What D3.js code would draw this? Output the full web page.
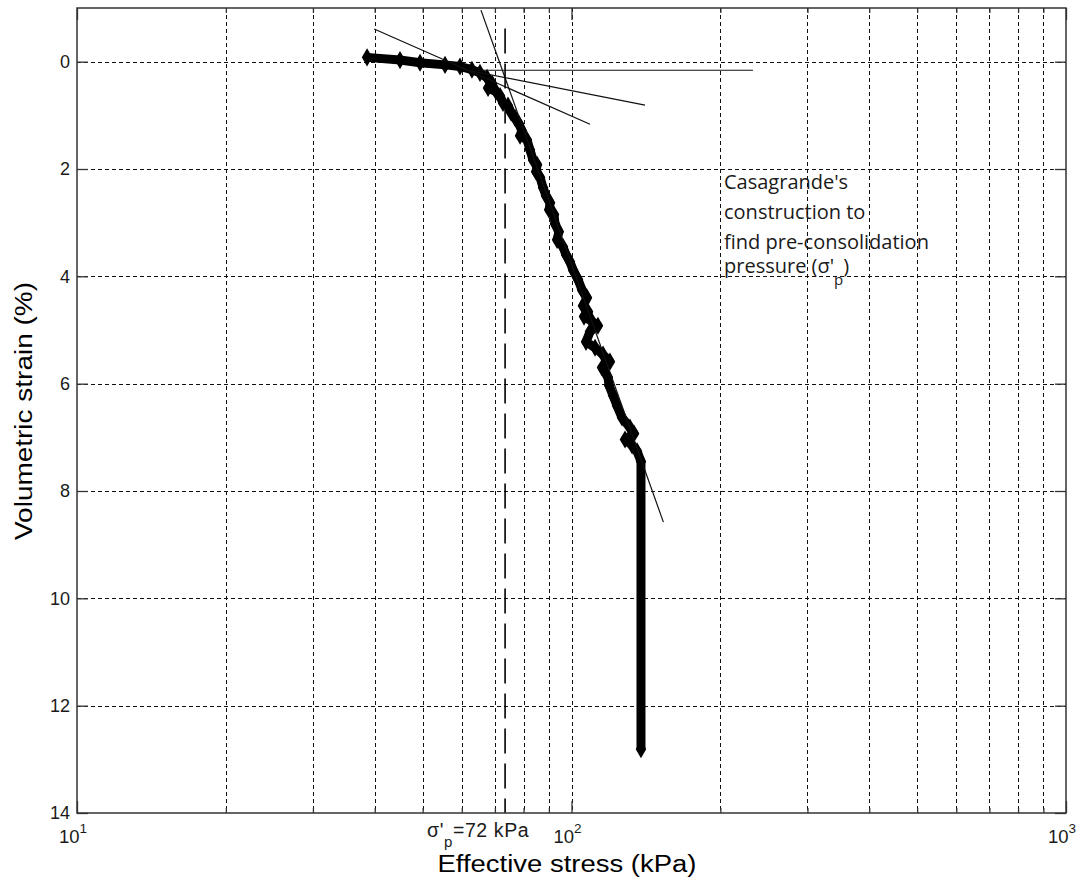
<!DOCTYPE html>
<html>
<head>
<meta charset="utf-8">
<script src="https://cdn.jsdelivr.net/npm/d3@7"></script>
<style>
  body { margin: 0; background: #fff; }
  svg { display: block; }
  text { font-family: "Liberation Sans", Arial, sans-serif; }
</style>
</head>
<body>
<svg id="chart" width="1084" height="886"></svg>
<script>
// tick values
var xMajor = [10, 100, 1000];
var xMinor = [20, 30, 40, 50, 60, 70, 80, 90, 200, 300, 400, 500, 600, 700, 800, 900];
var yTicks = [0, 2, 4, 6, 8, 10, 12, 14];
var yGrid = [0, 2, 4, 6, 8, 10, 12];

// measured curve: effective stress (kPa) vs volumetric strain (%)
var stress = [38.6, 45.0, 49.4, 55.5, 59.5, 62.9, 65.3, 67.5, 69.1, 67.8, 70.4, 71.7, 72.7, 74.4, 75.5, 76.9,
  78.3, 79.4, 78.7, 81.3, 82.4, 83.6, 85.2, 84.8, 86.4, 87.6, 88.8, 90.5, 90.1, 92.2, 92.6, 94.3, 93.5,
  96.1, 97.5, 99.3, 100.7, 103.1, 105.0, 107.5, 105.5, 108.0, 106.0, 110.0, 113.1, 109.0, 107.0, 111.6,
  115.8, 119.6, 115.3, 118.5, 119.1, 121.3, 123.6, 126.5, 131.3, 133.8, 128.3, 132.6, 135.7, 138.2, 138.2];
var strain = [-0.08, -0.03, 0.02, 0.06, 0.09, 0.15, 0.21, 0.30, 0.41, 0.49, 0.56, 0.64, 0.77, 0.82, 0.95, 1.05,
  1.16, 1.29, 1.38, 1.46, 1.64, 1.83, 1.92, 2.05, 2.16, 2.35, 2.50, 2.63, 2.76, 2.85, 3.02, 3.17, 3.32,
  3.45, 3.60, 3.73, 3.88, 4.06, 4.25, 4.40, 4.55, 4.66, 4.75, 4.84, 4.92, 5.03, 5.22, 5.33,
  5.46, 5.59, 5.70, 5.88, 6.03, 6.22, 6.41, 6.63, 6.82, 6.93, 7.04, 7.15, 7.26, 7.45, 12.81];

// Casagrande construction lines [[stress, strain], [stress, strain]]
var tangentLine = [[39.9, -0.61], [109, 1.165]];
var horizLine = [[64.7, 0.16], [232.8, 0.16]];
var bisectLine = [[61.75, 0.16], [140.8, 0.81]];
var virginLine = [[65.6, -0.96], [153.4, 8.58]];
var sigmaP = 73.4;
var sigmaPTop = -0.62;

var noteLines = ["Casagrande's", "construction to", "find pre-consolidation", "pressure (σ'"];

var svg = d3.select('#chart');
var pL = 77, pR = 1066, pT = 8, pB = 813;

var x = d3.scaleLog().domain([10, 1000]).range([pL, pR]);
var y = d3.scaleLinear().domain([-1, 14]).range([pT, pB]);

// annotation text (sits under the grid)
var note = svg.append('text')
  .attr('x', 724)
  .style('font-family', '"Open Sans", "Noto Sans", sans-serif')
  .style('font-size', '20px')
  .attr('fill', '#1a1a1a');
var noteY = [189, 219, 249, 273];
noteLines.forEach(function(t, i) {
  note.append('tspan').attr('x', 724).attr('y', noteY[i]).text(t);
});
note.append('tspan').attr('dy', 12).style('font-size', '15px').text('p');
note.append('tspan').attr('dy', -12).text(')');

// grid
var grid = svg.append('g')
  .attr('stroke', '#111')
  .attr('stroke-width', 1)
  .attr('stroke-dasharray', '4,3');
grid.selectAll('line.vx')
  .data(xMinor.concat([100]))
  .enter().append('line')
  .attr('x1', function(d) { return Math.round(x(d)) + 0.5; })
  .attr('x2', function(d) { return Math.round(x(d)) + 0.5; })
  .attr('y1', pT).attr('y2', pB);
grid.selectAll('line.hy')
  .data(yGrid)
  .enter().append('line')
  .attr('y1', function(d) { return Math.round(y(d)) + 0.5; })
  .attr('y2', function(d) { return Math.round(y(d)) + 0.5; })
  .attr('x1', pL).attr('x2', pR);

// curve
var pts = stress.map(function(s, i) { return [s, strain[i]]; });
var line = d3.line()
  .x(function(d) { return x(d[0]); })
  .y(function(d) { return y(d[1]); });

svg.append('path')
  .datum(pts)
  .attr('d', line)
  .attr('fill', 'none')
  .attr('stroke', '#000')
  .attr('stroke-width', 9)
  .attr('stroke-linejoin', 'round');

svg.selectAll('path.mk')
  .data(pts)
  .enter().append('path')
  .attr('transform', function(d) { return 'translate(' + x(d[0]) + ',' + y(d[1]) + ')'; })
  .attr('d', d3.symbol().type(d3.symbolDiamond).size(95))
  .attr('fill', '#000');

// construction lines
[tangentLine, horizLine, bisectLine, virginLine].forEach(function(seg) {
  svg.append('path')
    .datum(seg)
    .attr('d', line)
    .attr('fill', 'none')
    .attr('stroke', '#111')
    .attr('stroke-width', 1.2);
});

svg.append('line')
  .attr('x1', x(sigmaP)).attr('x2', x(sigmaP))
  .attr('y1', y(sigmaPTop)).attr('y2', pB)
  .attr('stroke', '#000')
  .attr('stroke-width', 1.6)
  .attr('stroke-dasharray', '25,10');

// axes (ticks inward, MATLAB style)
function styleAxis(g) {
  g.select('.domain').remove();
  g.selectAll('line').attr('stroke', '#333').attr('stroke-width', 1.3);
}

svg.append('g')
  .attr('transform', 'translate(' + pL + ',0)')
  .call(d3.axisLeft(y).tickValues(yTicks).tickSizeInner(-11).tickSizeOuter(0).tickPadding(7))
  .call(styleAxis)
  .selectAll('text')
  .style('font-size', '18px')
  .style('font-family', '"Liberation Sans", Arial, sans-serif')
  .attr('fill', '#1a1a1a');

svg.append('g')
  .attr('transform', 'translate(' + pR + ',0)')
  .call(d3.axisRight(y).tickValues(yTicks).tickSizeInner(-11).tickSizeOuter(0).tickFormat(''))
  .call(styleAxis);

[[pB, d3.axisBottom], [pT, d3.axisTop]].forEach(function(a) {
  svg.append('g')
    .attr('transform', 'translate(0,' + a[0] + ')')
    .call(a[1](x).tickValues(xMajor).tickSizeInner(-12).tickSizeOuter(0).tickFormat(''))
    .call(styleAxis);
  svg.append('g')
    .attr('transform', 'translate(0,' + a[0] + ')')
    .call(a[1](x).tickValues(xMinor).tickSizeInner(-5).tickSizeOuter(0).tickFormat(''))
    .call(styleAxis);
});

// box
svg.append('rect')
  .attr('x', pL).attr('y', pT)
  .attr('width', pR - pL).attr('height', pB - pT)
  .attr('fill', 'none')
  .attr('stroke', '#333')
  .attr('stroke-width', 1.5);

// x tick labels 10^n
var xl = svg.selectAll('text.xl')
  .data(xMajor)
  .enter().append('text')
  .attr('x', function(d) { return x(d) - 4; })
  .attr('y', 843)
  .attr('text-anchor', 'middle')
  .style('font-size', '18.5px')
  .attr('fill', '#1a1a1a');
xl.append('tspan').text('10');
xl.append('tspan')
  .attr('dy', -10)
  .style('font-size', '13.5px')
  .text(function(d) { return Math.round(Math.log10(d)); });

// sigma'p label
var sp = svg.append('text')
  .attr('x', 427).attr('y', 837)
  .style('font-size', '19.5px')
  .style('letter-spacing', '0.6px')
  .attr('fill', '#1a1a1a');
sp.append('tspan').text("σ'");
sp.append('tspan').attr('dy', 10).style('font-size', '15px').text('p');
sp.append('tspan').attr('dy', -10).text('=72 kPa');

// axis titles
svg.append('text')
  .attr('x', 567).attr('y', 872)
  .attr('text-anchor', 'middle')
  .attr('textLength', 259)
  .attr('lengthAdjust', 'spacingAndGlyphs')
  .style('font-size', '23px')
  .attr('fill', '#000')
  .text('Effective stress (kPa)');

svg.append('text')
  .attr('transform', 'translate(32,411) rotate(-90)')
  .attr('text-anchor', 'middle')
  .attr('textLength', 258)
  .attr('lengthAdjust', 'spacingAndGlyphs')
  .style('font-size', '23px')
  .attr('fill', '#000')
  .text('Volumetric strain (%)');
</script>
</body>
</html>
